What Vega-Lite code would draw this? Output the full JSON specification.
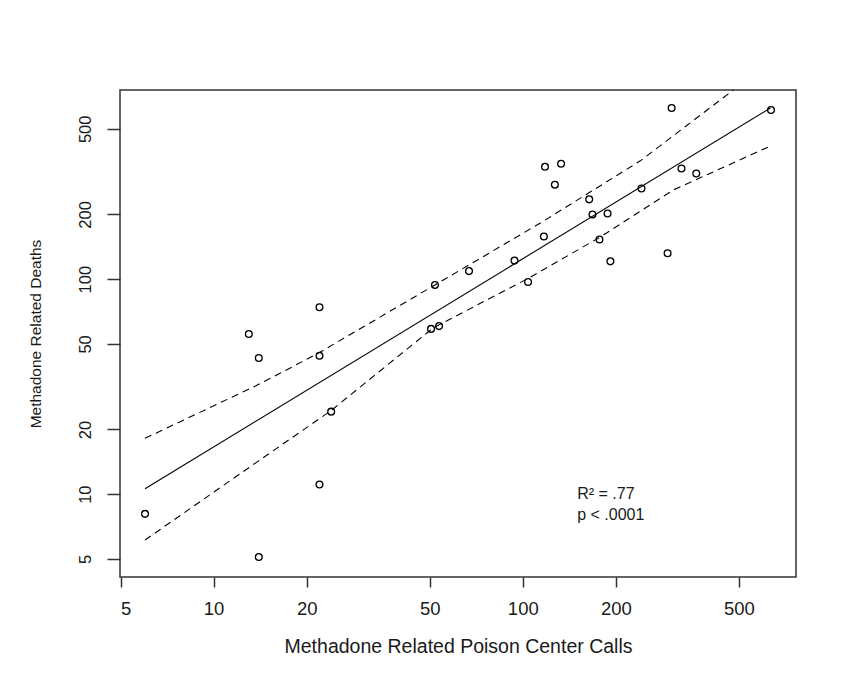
{
  "$schema": "https://vega.github.io/schema/vega-lite/v6.json",
  "width": 676,
  "height": 487,
  "autosize": {"type": "none"},
  "padding": {"left": 120, "top": 90, "right": 58, "bottom": 101},
  "background": "white",
  "datasets": {
    "pts": [
      {"x": 6, "y": 8.1}, {"x": 14, "y": 5.1}, {"x": 13, "y": 55.6}, {"x": 14, "y": 43},
      {"x": 22, "y": 74}, {"x": 22, "y": 44}, {"x": 22, "y": 11.1}, {"x": 24, "y": 24.2},
      {"x": 50.5, "y": 58.7}, {"x": 53.6, "y": 60.5}, {"x": 52, "y": 94}, {"x": 67, "y": 109},
      {"x": 94, "y": 122}, {"x": 104, "y": 97}, {"x": 117, "y": 158}, {"x": 118, "y": 333},
      {"x": 133, "y": 344}, {"x": 127, "y": 275}, {"x": 164, "y": 235}, {"x": 168, "y": 200},
      {"x": 188, "y": 202}, {"x": 177, "y": 153}, {"x": 192, "y": 121}, {"x": 242, "y": 264},
      {"x": 294, "y": 132}, {"x": 303, "y": 625}, {"x": 326, "y": 327}, {"x": 364, "y": 310},
      {"x": 635, "y": 612}
    ],
    "fit": [
      {"x": 6, "y": 10.6}, {"x": 632, "y": 625}
    ],
    "upper": [
      {"x": 6, "y": 18.2}, {"x": 13.7, "y": 31.9}, {"x": 21.6, "y": 44.9}, {"x": 52, "y": 94},
      {"x": 113.7, "y": 182}, {"x": 240, "y": 355}, {"x": 462, "y": 727}, {"x": 637, "y": 1023}
    ],
    "lower": [
      {"x": 6, "y": 6.12}, {"x": 13.8, "y": 14.1}, {"x": 24, "y": 24.5}, {"x": 51.3, "y": 59.3},
      {"x": 105.7, "y": 102}, {"x": 178, "y": 157}, {"x": 307, "y": 260}, {"x": 630, "y": 415}
    ],
    "annot": [
      {"x": 150, "y": 9.5, "label": "R² = .77"},
      {"x": 150, "y": 7.6, "label": "p < .0001"}
    ]
  },
  "encoding": {
    "x": {
      "field": "x", "type": "quantitative",
      "scale": {"type": "log", "domain": [4.98, 765], "nice": false, "zero": false},
      "axis": {
        "values": [5, 10, 20, 50, 100, 200, 500], "format": "d",
        "title": "Methadone Related Poison Center Calls",
        "domain": false, "grid": false, "tickSize": 10, "tickColor": "#333", "tickWidth": 1.5,
        "labelFont": "Liberation Sans", "labelFontSize": 18.5, "labelColor": "#1a1a1a", "labelPadding": 12,
        "titleFont": "Liberation Sans", "titleFontSize": 19.5, "titleFontWeight": "normal", "titleColor": "#1a1a1a", "titlePadding": 20
      }
    },
    "y": {
      "field": "y", "type": "quantitative",
      "scale": {"type": "log", "domain": [4.12, 758], "nice": false, "zero": false},
      "axis": {
        "values": [5, 10, 20, 50, 100, 200, 500], "format": "d",
        "title": "Methadone Related Deaths",
        "domain": false, "grid": false, "tickSize": 13, "tickColor": "#333", "tickWidth": 1.5,
        "labelAngle": 270, "labelAlign": "center", "labelBaseline": "bottom",
        "labelFont": "Liberation Sans", "labelFontSize": 16.5, "labelColor": "#1a1a1a", "labelPadding": 14,
        "titleFont": "Liberation Sans", "titleFontSize": 15.5, "titleFontWeight": "normal", "titleColor": "#1a1a1a", "titlePadding": 34
      }
    }
  },
  "layer": [
    {
      "data": {"name": "lower"},
      "mark": {"type": "line", "color": "black", "strokeWidth": 1.1, "strokeDash": [7, 5], "clip": true}
    },
    {
      "data": {"name": "upper"},
      "mark": {"type": "line", "color": "black", "strokeWidth": 1.1, "strokeDash": [7, 5], "clip": true}
    },
    {
      "data": {"name": "fit"},
      "mark": {"type": "line", "color": "black", "strokeWidth": 1.1, "clip": true}
    },
    {
      "data": {"name": "pts"},
      "mark": {"type": "point", "shape": "circle", "filled": false, "size": 46, "stroke": "black", "strokeWidth": 1.3, "opacity": 1}
    },
    {
      "data": {"name": "annot"},
      "mark": {"type": "text", "align": "left", "baseline": "alphabetic", "font": "Liberation Sans", "fontSize": 16, "color": "#1a1a1a"},
      "encoding": {"text": {"field": "label"}}
    }
  ],
  "config": {
    "view": {"stroke": "#333", "strokeWidth": 1.5}
  }
}
